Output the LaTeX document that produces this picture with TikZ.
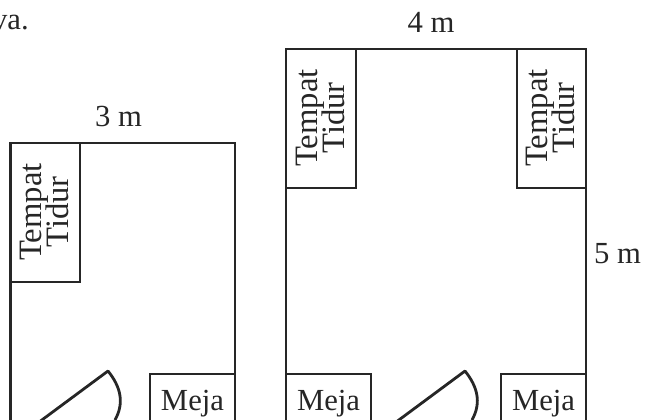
\documentclass[tikz,border=0pt]{standalone}
\usepackage{fontspec}
\setmainfont{Liberation Serif}
\tikzset{
  wall/.style={draw=black!85,line width=2.1pt},
  lbl/.style={inner sep=0pt,font=\fontsize{23}{20}\selectfont,text=black!85},
  bedlbl/.style={lbl,rotate=90,align=center,font=\fontsize{24.5}{20}\selectfont}
}
\begin{document}
\begin{tikzpicture}
      [x=0.75pt,y=-0.75pt]
      \useasboundingbox (0,0) rectangle (645,419);
      \clip (0,0) rectangle (645,419);
      \node[lbl,anchor=base east] (va) at (29,29) {va.};
      \node[lbl,anchor=base] (lebar3) at (118.5,126) {3 m};
      \node[lbl,anchor=base] (lebar4) at (431,32) {4 m};
      \node[lbl,anchor=base] (panjang5) at (617.5,263) {5 m};
      % kamar kiri
      \draw[wall] (10.5,430) -- (10.5,143) -- (235,143) -- (235,430);
      \draw[wall] (10.5,143) rectangle (80,282);
      \node[bedlbl] (bedA) at (44,212) {Tempat\\[-3pt]Tidur};
      \draw[wall] (150,430) -- (150,374) -- (235,374) -- (235,430);
      \node[lbl,anchor=base] (mejaA) at (192.5,410.5) {Meja};
      \draw[wall,line join=round] (27,431) -- (108,371)
        .. controls (120,386) and (125,402) .. (115,420);
      % kamar kanan
      \draw[wall] (286,430) -- (286,49) -- (586,49) -- (586,430);
      \draw[wall] (286,49) rectangle (356,188);
      \node[bedlbl] (bedB) at (320,118) {Tempat\\[-3pt]Tidur};
      \draw[wall] (517,49) rectangle (586,188);
      \node[bedlbl] (bedC) at (550.5,118) {Tempat\\[-3pt]Tidur};
      \draw[wall] (286,374) -- (371,374) -- (371,430);
      \node[lbl,anchor=base] (mejaB) at (328.5,410.5) {Meja};
      \draw[wall] (501,430) -- (501,374) -- (586,374);
      \node[lbl,anchor=base] (mejaC) at (543.5,410.5) {Meja};
      \draw[wall,line join=round] (384,431) -- (465,371)
        .. controls (477,386) and (482,402) .. (472,420);
    \end{tikzpicture}
\end{document}
